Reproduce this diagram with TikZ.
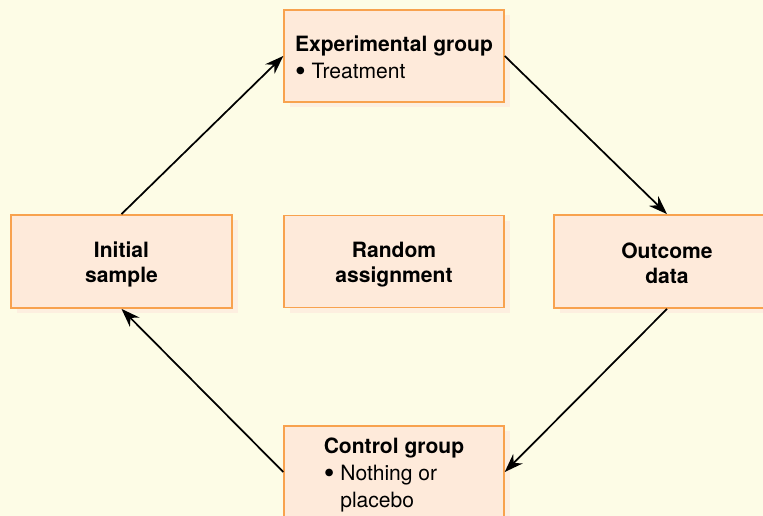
\documentclass[tikz,border=0pt]{standalone}
\usepackage{xcolor}
\usepackage{graphicx}
\usepackage{fontspec}
\setmainfont{TeX Gyre Heros}
\usepackage{tikz}
\usetikzlibrary{arrows.meta,shadows}
\definecolor{pagecream}{HTML}{FDFCE6}
\definecolor{boxfill}{HTML}{FEEADA}
\definecolor{boxline}{HTML}{F8A24E}
\definecolor{boxshade}{HTML}{FDEFE0}
\newcommand\lnstrut{\rule[-1pt]{0pt}{17pt}}
\newcommand\itemdot{\raisebox{-0.14em}{\scalebox{1.45}{\textbullet}}\ }

\begin{document}
\begin{tikzpicture}[x=0.75pt,y=-0.75pt,
  stagebox/.style={draw=boxline,fill=boxfill,line width=1.1pt,
    minimum width=165pt,minimum height=69pt,inner sep=0pt,
    font=\fontsize{15.8}{18.75}\selectfont,
    drop shadow={shadow xshift=4.5pt,shadow yshift=-4pt,fill=boxshade,opacity=1}},
  flow/.style={line width=1.3pt,-{Stealth[length=14pt,width=10pt,inset=4.5pt]}}]
  \fill[pagecream] (0,0) rectangle (763,516);
  \useasboundingbox (0,0) rectangle (763,516);
  \node[stagebox,align=left] (exp) at (394,56)
    {\lnstrut\textbf{Experimental group}\\\lnstrut\itemdot Treatment};
  \node[stagebox,align=center,minimum width=166pt,minimum height=70pt] (init) at (121.5,261.5)
    {\lnstrut\textbf{Initial}\\\lnstrut\textbf{sample}};
  \node[stagebox,align=center] (rand) at (394,261.5)
    {\lnstrut\textbf{Random}\\\lnstrut\textbf{assignment}};
  \node[stagebox,align=center,minimum width=169.5pt,minimum height=70pt] (out) at (667,261.5)
    {\lnstrut\textbf{Outcome}\\\lnstrut\textbf{data}};
  \node[stagebox,align=left] (ctrl) at (394,472)
    {\lnstrut\textbf{Control group}\\\lnstrut\itemdot Nothing or\\\lnstrut\phantom{\itemdot}placebo};
  \draw[flow] (init.north) -- (exp.west);
  \draw[flow] (exp.east) -- (out.north);
  \draw[flow] (out.south) -- (ctrl.east);
  \draw[flow] (ctrl.west) -- (init.south);
\end{tikzpicture}
\end{document}
